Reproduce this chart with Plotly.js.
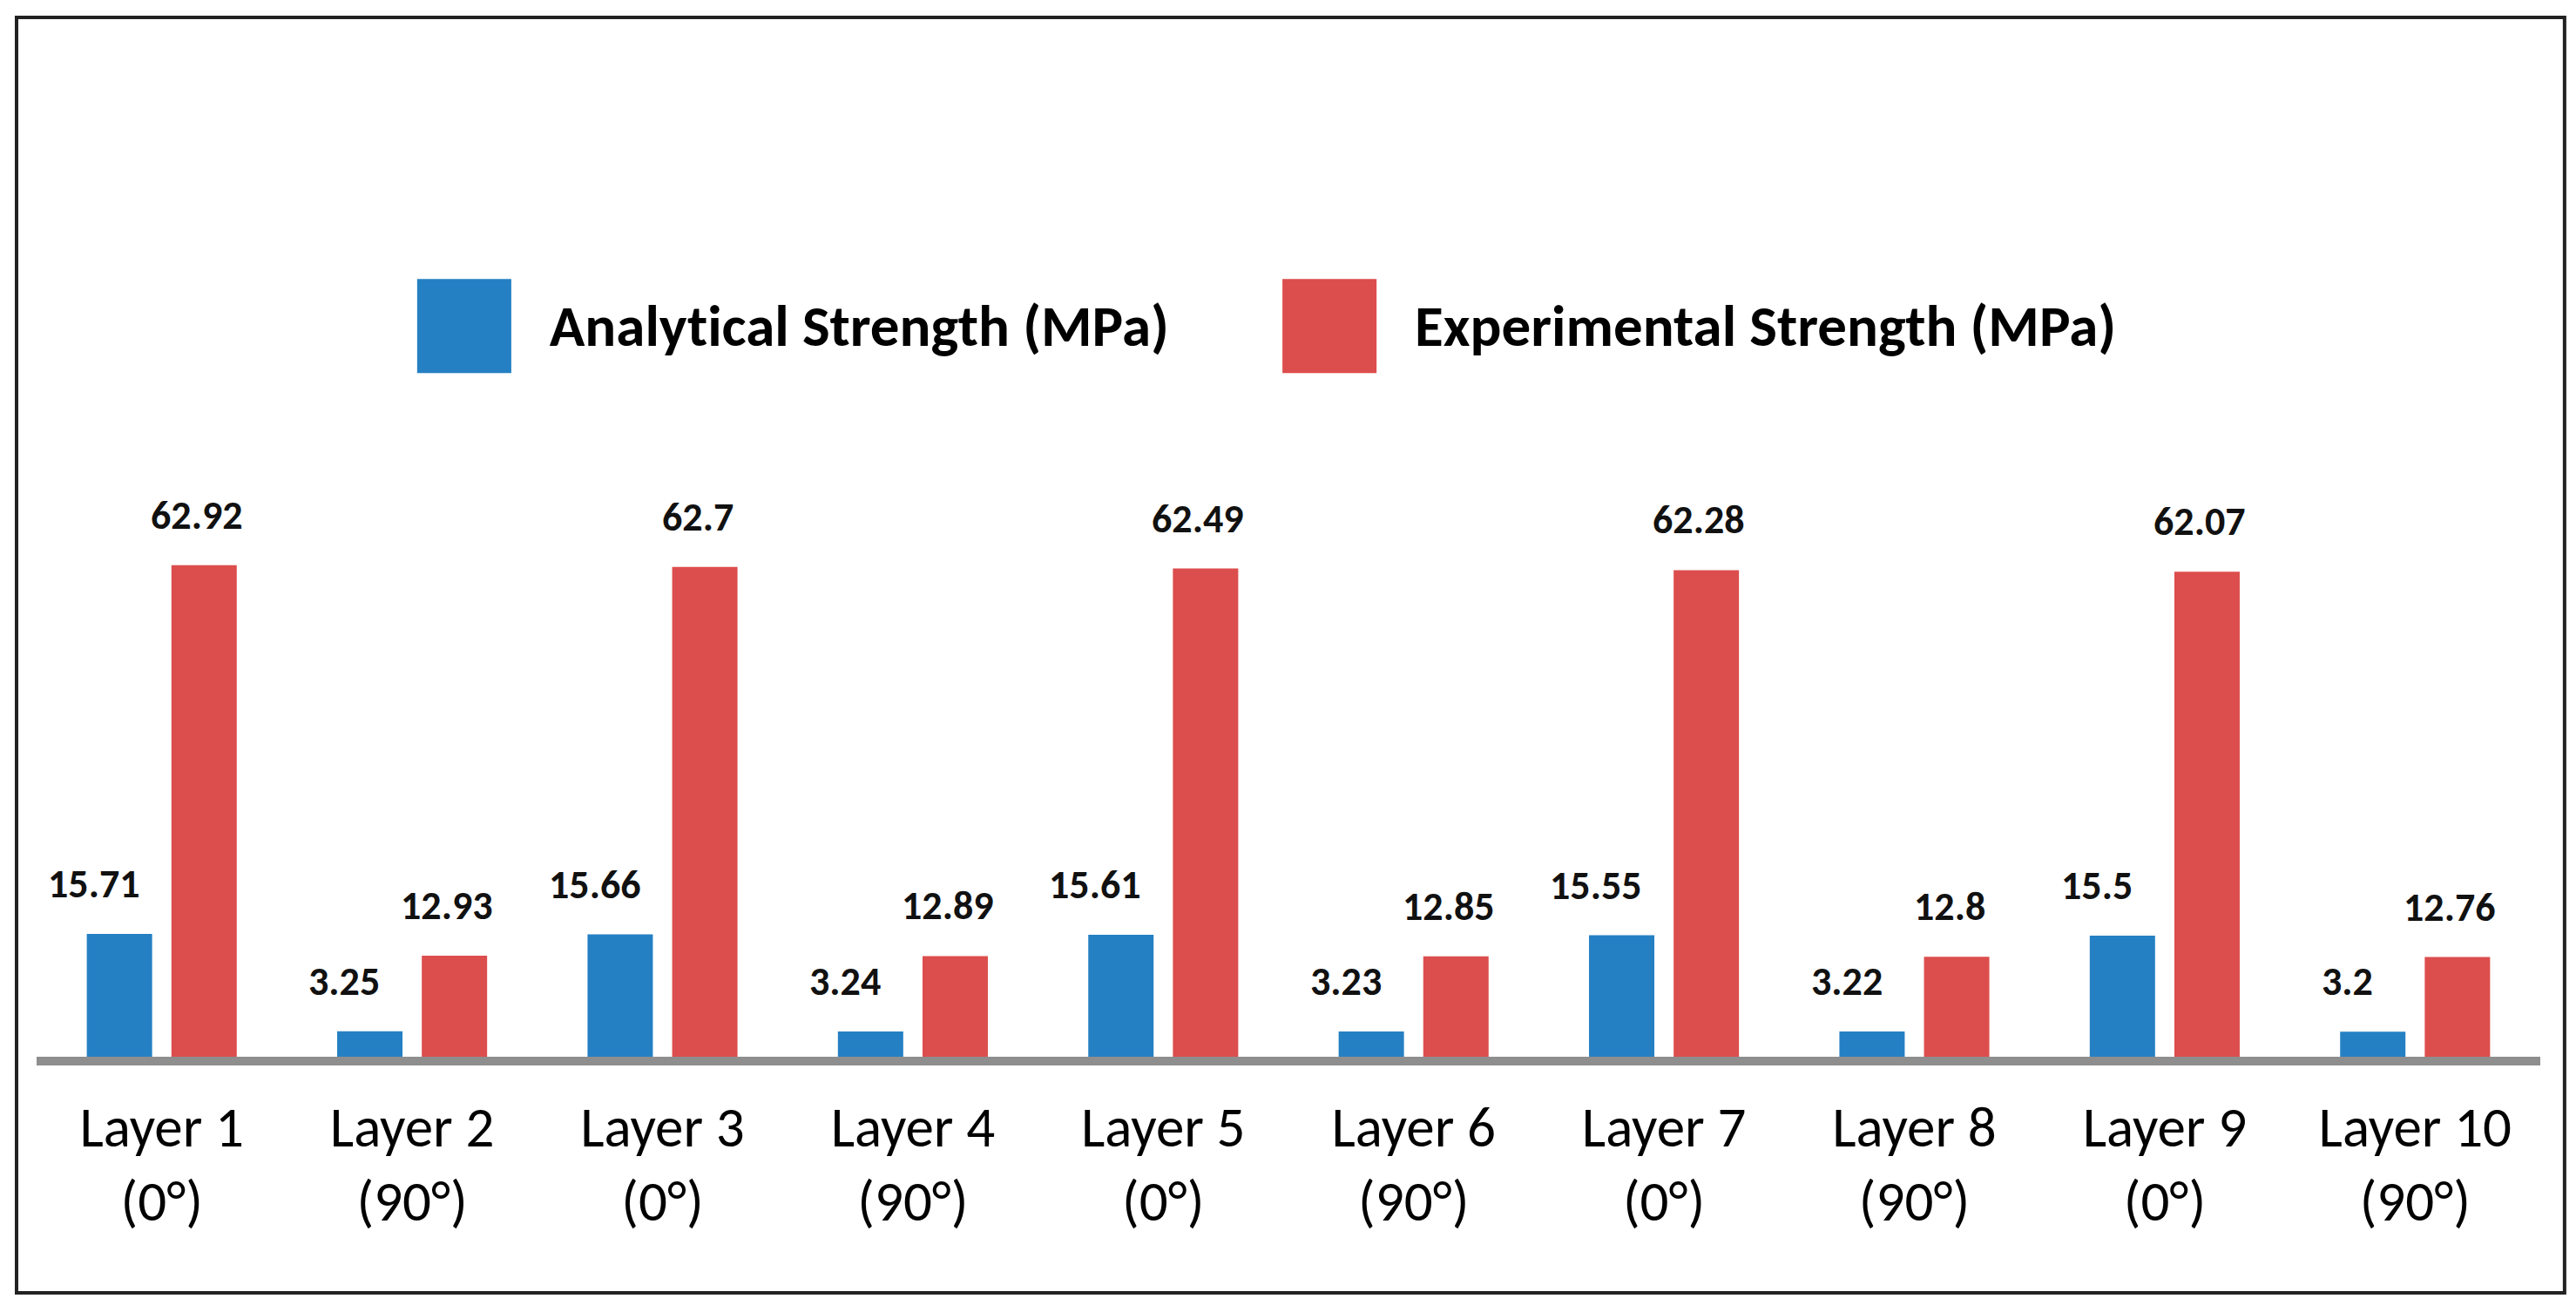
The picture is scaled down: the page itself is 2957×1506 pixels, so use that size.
<!DOCTYPE html>
<html>
<head>
<meta charset="utf-8">
<script src="https://cdn.plot.ly/plotly-3.0.1.min.js"></script>
<style>
  html, body { margin: 0; padding: 0; background: #fff; }
  #chart { width: 2957px; height: 1506px; }
  #chart text { font-variant-ligatures: none; font-feature-settings: "liga" 0; }
</style>
</head>
<body>
<div id="chart"></div>
<script>
// layer names and fibre angles (two-line tick labels)
var layers = ['Layer 1', 'Layer 2', 'Layer 3', 'Layer 4', 'Layer 5',
              'Layer 6', 'Layer 7', 'Layer 8', 'Layer 9', 'Layer 10'];
var angles = ['(0°)', '(90°)', '(0°)', '(90°)', '(0°)',
              '(90°)', '(0°)', '(90°)', '(0°)', '(90°)'];

// strength values, MPa
var analytical = [15.71, 3.25, 15.66, 3.24, 15.61, 3.23, 15.55, 3.22, 15.5, 3.2];
var experimental = [62.92, 12.93, 62.7, 12.89, 62.49, 12.85, 62.28, 12.8, 62.07, 12.76];

var seriesNames = ['Analytical Strength (MPa)', 'Experimental Strength (MPa)'];
var seriesColors = ['#2580c3', '#dc4e4d'];

var FONT = 'Carlito, Lato, "Open Sans", sans-serif';

var idx = layers.map(function (d, i) { return i; });
var ticks = layers.map(function (d, i) { return d + '<br>' + angles[i]; });

var trace1 = {
  x: idx,
  y: analytical,
  type: 'bar',
  name: seriesNames[0],
  marker: { color: seriesColors[0] },
  hoverinfo: 'y'
};

var trace2 = {
  x: idx,
  y: experimental,
  type: 'bar',
  name: seriesNames[1],
  marker: { color: seriesColors[1] },
  hoverinfo: 'y'
};

// value labels sit a bit left of their bars, like in the original
var labels = [];
idx.forEach(function (i) {
  labels.push({
    x: i, y: analytical[i], xref: 'x', yref: 'y',
    text: String(analytical[i]), showarrow: false,
    xshift: -78, yshift: 58, yanchor: 'middle',
    font: { family: FONT, size: 46, color: '#111', weight: 'bold' }
  });
  labels.push({
    x: i, y: experimental[i], xref: 'x', yref: 'y',
    text: String(experimental[i]), showarrow: false,
    xshift: 40, yshift: 58, yanchor: 'middle',
    font: { family: FONT, size: 46, color: '#111', weight: 'bold' }
  });
});

// legend drawn by hand: big colour blocks + bold text
var legendX = [0.152, 0.4976];
var legendW = 0.0376;
seriesNames.forEach(function (n, k) {
  labels.push({
    x: legendX[k] + legendW + 0.0145, y: 0.754, xref: 'paper', yref: 'paper',
    text: n, showarrow: false, xanchor: 'left', yanchor: 'middle',
    font: { family: FONT, size: 67, color: '#000', weight: 'bold' }
  });
});

var shapes = seriesNames.map(function (n, k) {
  return {
    type: 'rect', xref: 'paper', yref: 'paper',
    x0: legendX[k], x1: legendX[k] + legendW, y0: 0.705, y1: 0.802,
    fillcolor: seriesColors[k], line: { width: 0 }
  };
});

// outer frame
shapes.push({
  type: 'rect', xref: 'paper', yref: 'paper',
  x0: -0.008, x1: 1.0097, y0: -0.2435, y1: 1.0719,
  line: { color: '#222', width: 4 }, fillcolor: 'rgba(0,0,0,0)'
});

var layout = {
  width: 2957,
  height: 1506,
  margin: { l: 42, r: 41, t: 100, b: 293 },
  paper_bgcolor: '#fff',
  plot_bgcolor: '#fff',
  showlegend: false,
  barmode: 'group',
  bargap: 0.324,
  bargroupgap: 0.228,
  font: { family: FONT, color: '#000' },
  xaxis: {
    range: [-0.5, 9.5],
    tickvals: idx,
    ticktext: ticks,
    ticks: '',
    showgrid: false,
    zeroline: false,
    showline: true,
    linecolor: '#8e8e8e',
    linewidth: 10,
    ticklabelstandoff: 15,
    tickfont: { family: FONT, size: 65, color: '#000' },
    fixedrange: true
  },
  yaxis: {
    range: [0, 124.1],
    visible: false,
    showgrid: false,
    zeroline: false,
    fixedrange: true
  },
  annotations: labels,
  shapes: shapes
};

var config = { displayModeBar: false, staticPlot: true };

Plotly.newPlot('chart', [trace1, trace2], layout, config);
</script>
</body>
</html>
